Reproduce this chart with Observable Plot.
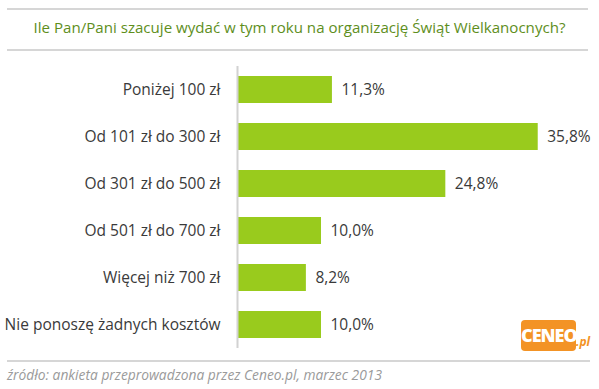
<!DOCTYPE html>
<html>
<head>
<meta charset="utf-8">
<script src="https://cdn.jsdelivr.net/npm/d3@7"></script>
<script src="https://cdn.jsdelivr.net/npm/@observablehq/plot@0.6"></script>
<style>
  html, body { margin: 0; padding: 0; background: #fff; }
  #wrap { position: relative; width: 599px; height: 389px; overflow: hidden; font-family: "Open Sans", sans-serif; }
  .hr { position: absolute; height: 2px; background: #d6d6d6; }
  #title { position: absolute; left: 0; width: 599px; top: 17px; text-align: center; font-size: 15.1px; color: #5e8e1c; white-space: nowrap; }
  #chart { position: absolute; left: 0; top: 56px; }
  #caption { position: absolute; left: 7px; top: 365px; font-size: 13.8px; font-style: italic; color: #9a9a9a; white-space: nowrap; }
  #logo { position: absolute; left: 521px; top: 320px; width: 55px; height: 31px; background: #f39325; border-radius: 4px; color: #fff; font-family: "Open Sans", sans-serif; font-weight: 800; font-size: 18px; line-height: 31px; text-align: center; letter-spacing: -1px; }
  #logopl { position: absolute; left: 576px; top: 333px; color: #f39325; font-style: italic; font-weight: 700; font-size: 12px; font-family: "Open Sans", sans-serif; }
</style>
</head>
<body>
<div id="wrap">
  <div class="hr" style="left:7px; width:581px; top:8px;"></div>
  <div id="title">Ile Pan/Pani szacuje wydać w tym roku na organizację Świąt Wielkanocnych?</div>
  <div class="hr" style="left:7px; width:581px; top:49px;"></div>
  <div id="chart"></div>
  <div id="logo">CENEO</div>
  <div id="logopl">.pl</div>
  <div class="hr" style="left:7px; width:583px; top:360px;"></div>
  <div id="caption">źródło: ankieta przeprowadzona przez Ceneo.pl, marzec 2013</div>
</div>
<script>
const categories = [
  "Poniżej 100 zł",
  "Od 101 zł do 300 zł",
  "Od 301 zł do 500 zł",
  "Od 501 zł do 700 zł",
  "Więcej niż 700 zł",
  "Nie ponoszę żadnych kosztów"
];
const values = [11.3, 35.8, 24.8, 10.0, 8.2, 10.0];

const data = categories.map((c, i) => ({category: c, value: values[i]}));
const fmt = v => d3.format(".1f")(v).replace(".", ",") + "%";

const chart = Plot.plot({
  width: 599,
  height: 296,
  marginLeft: 237,
  marginRight: 26,
  marginTop: 10,
  marginBottom: 4,
  style: {fontFamily: "Open Sans, sans-serif", fontSize: "15.5px", color: "#3a3a3a"},
  x: {domain: [0, 40], axis: null},
  y: {domain: categories, paddingInner: 0.42, paddingOuter: 0.21, label: null},
  marks: [
    Plot.barX(data, {x: "value", y: "category", fill: "#99cb1d"}),
    Plot.ruleX([0], {stroke: "#d2d2d2", strokeWidth: 2}),
    Plot.axisY({tickSize: 0, tickPadding: 17, fontSize: 15.5, fill: "#3a3a3a", label: null}),
    Plot.text(data, {x: "value", y: "category", text: d => fmt(d.value), textAnchor: "start", dx: 9, fill: "#3a3a3a", fontSize: 15.5})
  ]
});
document.getElementById("chart").appendChild(chart);
</script>
</body>
</html>
